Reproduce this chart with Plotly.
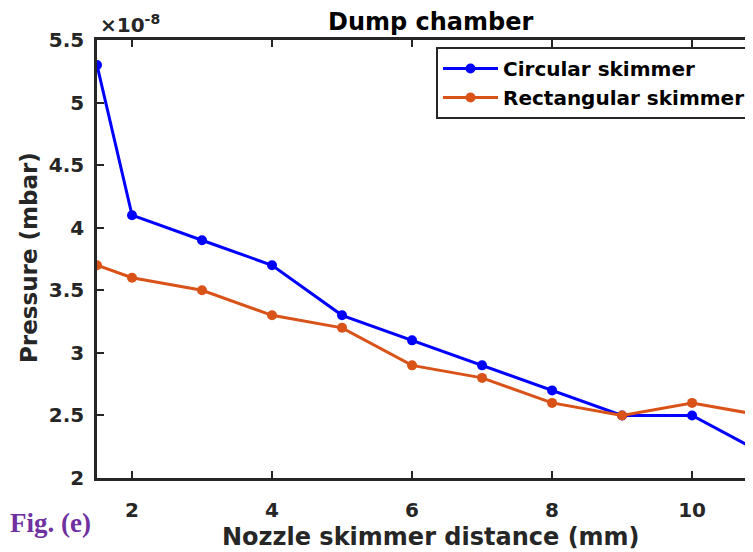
import plotly.graph_objects as go

distance = [1.5, 2, 3, 4, 5, 6, 7, 8, 9, 10, 11]
circular = [5.3, 4.1, 3.9, 3.7, 3.3, 3.1, 2.9, 2.7, 2.5, 2.5, 2.2]
rectangular = [3.7, 3.6, 3.5, 3.3, 3.2, 2.9, 2.8, 2.6, 2.5, 2.6, 2.5]
x_ticks = [2, 4, 6, 8, 10]
y_ticks = [2, 2.5, 3, 3.5, 4, 4.5, 5, 5.5]
y_labels = ["2", "2.5", "3", "3.5", "4", "4.5", "5", "5.5"]

FONT = "DejaVu Sans, Liberation Sans, sans-serif"
AX = "#262626"

# page has an 8px body margin; work in page coordinates and convert
OFF = 8
W, H = 753 - OFF, 552 - OFF
L, T = 97 - OFF, 40 - OFF
BOT = 478 - OFF
B = H - BOT
PW, PH = W - L, BOT - T


def px(xpage):
    return (xpage - OFF - L) / PW


def py(ypage):
    return (BOT - (ypage - OFF)) / PH


fig = go.Figure()
fig.add_trace(go.Scatter(x=distance, y=circular, mode="lines+markers",
                         name="Circular skimmer",
                         line=dict(color="#0000FF", width=3),
                         marker=dict(color="#0000FF", size=10)))
fig.add_trace(go.Scatter(x=distance, y=rectangular, mode="lines+markers",
                         name="Rectangular skimmer",
                         line=dict(color="#D95319", width=3),
                         marker=dict(color="#D95319", size=10)))

fig.update_layout(
    width=W, height=H,
    margin=dict(l=L, r=0, t=T, b=B, pad=0),
    plot_bgcolor="white", paper_bgcolor="white",
    font=dict(family=FONT, size=20, color=AX),
    showlegend=True,
    legend=dict(x=px(436), y=py(47), xref="paper", yref="paper",
                xanchor="left", yanchor="top",
                bgcolor="white", bordercolor=AX, borderwidth=2,
                font=dict(family=FONT, size=20, color="#000000", weight="bold"),
                tracegroupgap=0, itemwidth=55),
    xaxis=dict(range=[1.5, 10.87], tickvals=x_ticks, ticks="inside", ticklen=7,
               tickwidth=2, tickcolor=AX, showline=True, linecolor=AX, linewidth=2.5,
               mirror="ticks", showgrid=False, zeroline=False, automargin=False,
               ticklabelstandoff=12,
               tickfont=dict(family=FONT, size=20, weight="bold", color=AX)),
    yaxis=dict(range=[2, 5.5], tickvals=y_ticks, ticktext=y_labels, ticks="inside",
               ticklen=7, tickwidth=2, tickcolor=AX, showline=True, linecolor=AX,
               linewidth=2.5, mirror="ticks", showgrid=False, zeroline=False,
               automargin=False, ticklabelstandoff=6,
               tickfont=dict(family=FONT, size=20, weight="bold", color=AX)),
)

fig.add_annotation(text="Dump chamber", xref="paper", yref="paper",
                   x=px(431), y=py(22), xanchor="center", yanchor="middle",
                   showarrow=False,
                   font=dict(family=FONT, size=24, weight="bold", color="#000000"))
fig.add_annotation(text="Nozzle skimmer distance (mm)", xref="paper", yref="paper",
                   x=px(431), y=py(537), xanchor="center", yanchor="middle",
                   showarrow=False,
                   font=dict(family=FONT, size=24, weight="bold", color=AX))
fig.add_annotation(text="Pressure (mbar)", xref="paper", yref="paper",
                   x=px(29), y=py(258), xanchor="center", yanchor="middle",
                   textangle=-90, showarrow=False,
                   font=dict(family=FONT, size=23, weight="bold", color=AX))
fig.add_annotation(text="×10<sup>-8</sup>", xref="paper", yref="paper",
                   x=px(98), y=py(24), xanchor="left", yanchor="middle",
                   showarrow=False,
                   font=dict(family=FONT, size=20, weight="bold", color=AX))
fig.add_annotation(text="Fig. (e)", xref="paper", yref="paper",
                   x=px(OFF), y=py(523), xanchor="left", yanchor="middle",
                   showarrow=False,
                   font=dict(family="Liberation Serif, DejaVu Serif, serif", size=27,
                             weight="bold", color="#7030A0"))

fig.write_html("out.html")
